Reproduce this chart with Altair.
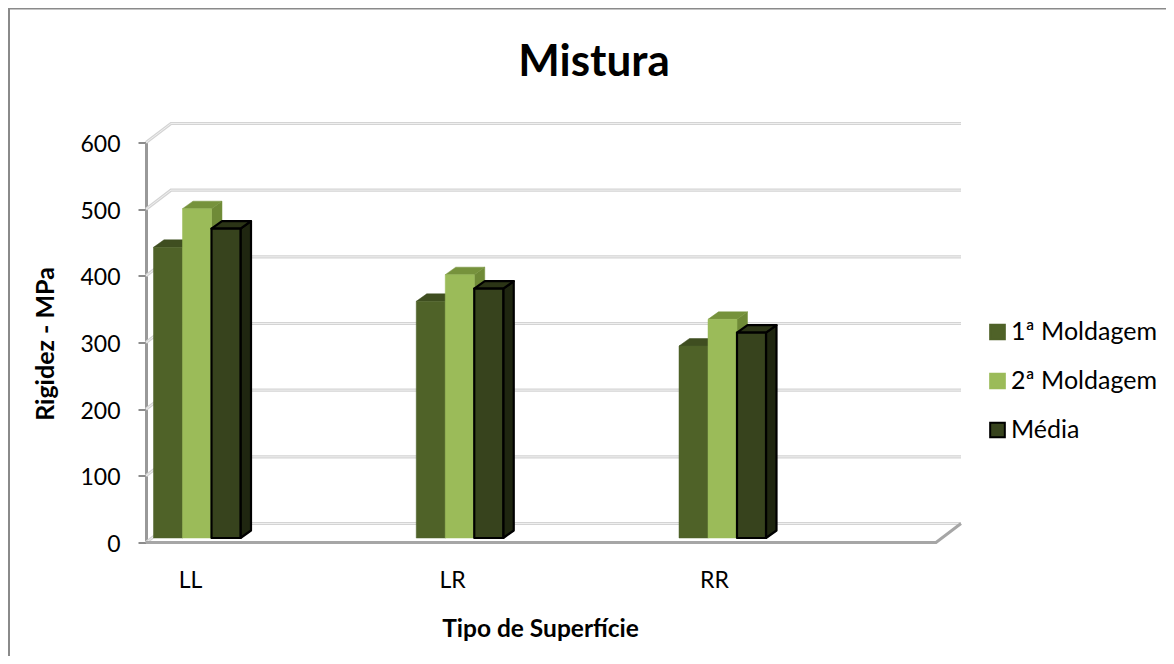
import altair as alt
import pandas as pd

FONT = "Lato"
categories = ["LL", "LR", "RR"]
series = ["1ª Moldagem", "2ª Moldagem", "Média"]
moldagem_1 = [436, 355, 288]
moldagem_2 = [494, 395, 328]
media = [464, 374, 308]
value_rows = [moldagem_1, moldagem_2, media]
y_ticks = [0, 100, 200, 300, 400, 500, 600]
label_pos = [44, 306, 568]

front_fill = ["#4f6228", "#9bbb59", "#37431d"]
front_stroke = ["#4f6228", "#9bbb59", "#000000"]
top_fill = ["#3f4e20", "#76923c", "#2b3416"]
side_fill = ["#3f4e20", "#6f8a37", "#1f2610"]
face_stroke = ["#3f4e20", "#76923c", "#000000"]
stroke_w = [0.5, 0.5, 2.2]

PXY = 400 / 600
WALL_DX, WALL_DY = 25, 19 / PXY
BAR_DX, BAR_DY = 10.5, 7.5 / PXY
BASE = 4.5 / PXY
START, STEP, BW = 7.5, 262.75, 29

xs = alt.Scale(domain=[0, 790], nice=False, zero=False)
ys = alt.Scale(domain=[0, 600], nice=False, zero=False)
x_axis = alt.Axis(values=label_pos, labelExpr="['LL','LR','RR'][indexof([44,306,568],datum.value)]",
                  domain=False, ticks=False, grid=False, labelFont=FONT, labelFontSize=23,
                  labelColor="#000", labelPadding=27, titleFont=FONT, titleFontSize=24.5,
                  titleFontWeight="bold", titleColor="#000", titleX=394, titleY=87, titleBaseline="middle",
                  title="Tipo de Superfície")
y_axis = alt.Axis(values=y_ticks, domainColor="#999999", domainWidth=3, tickColor="#8c8c8c", tickWidth=2,
                  tickSize=8, grid=False, labelFont=FONT, labelFontSize=23, labelColor="#000",
                  labelPadding=18, labelOffset=2, titleFont=FONT, titleFontSize=25, titleFontWeight="bold",
                  titleColor="#000", titleX=-101, titleY=201, titleBaseline="middle", title="Rigidez - MPa")
X = lambda f="x": alt.X(f"{f}:Q", scale=xs, axis=x_axis)
Y = lambda f="y": alt.Y(f"{f}:Q", scale=ys, axis=y_axis, stack=None)

# walls
grid = []
for v in y_ticks[1:]:
    grid += [dict(k=v, x=0, y=v), dict(k=v, x=WALL_DX, y=v + WALL_DY), dict(k=v, x=790 + WALL_DX, y=v + WALL_DY)]
grid += [dict(k=0, x=0, y=0), dict(k=0, x=WALL_DX, y=WALL_DY), dict(k=0, x=790 + WALL_DX, y=WALL_DY)]
grid_df = pd.DataFrame(grid)
grid_outer = alt.Chart(grid_df).mark_line(color="#d4d4d4", strokeWidth=3.2).encode(x=X(), y=Y(), detail="k:N")
grid_inner = alt.Chart(grid_df).mark_line(color="#efefef", strokeWidth=1).encode(x=X(), y=Y(), detail="k:N")
floor_df = pd.DataFrame([dict(x=0, y=0), dict(x=790, y=0), dict(x=790 + WALL_DX, y=WALL_DY)])
floor = alt.Chart(floor_df).mark_line(color="#a6a6a6", strokeWidth=3).encode(x=X(), y=Y())

layers = [grid_outer, grid_inner, floor]

# bars
front_rows = []
for s, vals in enumerate(value_rows):
    side_rows, top_rows = [], []
    for c, v in enumerate(vals):
        x0 = START + c * STEP + s * BW
        x1 = x0 + BW
        top = BASE + v
        k = f"{c}"
        side_rows += [dict(k=k, x=x1, y=BASE, y2=top), dict(k=k, x=x1 + BAR_DX, y=BASE + BAR_DY, y2=top + BAR_DY)]
        top_rows += [dict(k=k, x=x0, y=top, y2=top), dict(k=k, x=x0 + BAR_DX, y=top, y2=top + BAR_DY),
                     dict(k=k, x=x1, y=top, y2=top + BAR_DY), dict(k=k, x=x1 + BAR_DX, y=top + BAR_DY, y2=top + BAR_DY)]
        front_rows.append(dict(serie=series[s], x=x0, x2=x1, y=BASE, y2=top))
    for rows, fill in ((side_rows, side_fill[s]), (top_rows, top_fill[s])):
        layers.append(alt.Chart(pd.DataFrame(rows)).mark_area(
            fill=fill, stroke=face_stroke[s], strokeWidth=stroke_w[s], strokeJoin="round"
        ).encode(x=X(), y=Y(), y2="y2:Q", detail="k:N"))
    layers.append(alt.Chart(pd.DataFrame([r for r in front_rows if r["serie"] == series[s]])).mark_rect(
        strokeWidth=stroke_w[s], strokeJoin="round").encode(
        x=X(), x2="x2:Q", y=Y(), y2="y2:Q",
        fill=alt.Fill("serie:N", title=None, scale=alt.Scale(domain=series, range=front_fill),
                      legend=alt.Legend(orient="none", legendX=839, legendY=177, symbolType="square",
                                        symbolSize=215, symbolStrokeWidth=2, labelFont=FONT, labelFontSize=25,
                                        labelColor="#000", labelOffset=1, rowPadding=23, title=None)),
        stroke=alt.Stroke("serie:N", title=None, scale=alt.Scale(domain=series, range=front_stroke))))

# chart frame
frame_top = alt.Chart(pd.DataFrame({"a": [0]})).mark_rule(color="#8a8a8a", strokeWidth=2).encode(
    x=alt.value(-138), x2=alt.value(1020), y=alt.value(-134))
frame_left = alt.Chart(pd.DataFrame({"a": [0]})).mark_rule(color="#8a8a8a", strokeWidth=2).encode(
    x=alt.value(-137), y=alt.value(-135), y2=alt.value(514))
layers += [frame_top, frame_left]

chart = alt.layer(*layers).properties(
    width=790, height=400,
    autosize=alt.AutoSizeParams(type="none"),
    padding={"left": 138, "top": 134.5, "right": 230, "bottom": 113.5},
    background="white",
    title=alt.TitleParams("Mistura", font=FONT, fontSize=44, fontWeight="bold", color="#000",
                          anchor="middle", dx=53, offset=-78),
).configure_view(stroke=None)

chart.save("out.html", embed_options={"renderer": "svg", "actions": False})
